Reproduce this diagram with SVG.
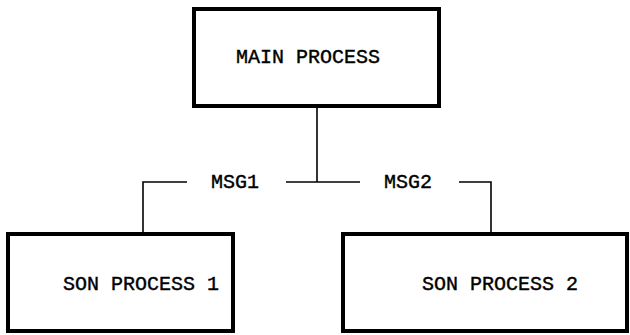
<svg xmlns="http://www.w3.org/2000/svg" width="630" height="335" viewBox="0 0 630 335">
<style>
.box{fill:#fff;stroke:#000;stroke-width:4}
.lbl{font-family:"Liberation Mono","Courier New",monospace;font-size:20px;fill:#000;stroke:#000;stroke-width:0.4}
.wire{fill:none;stroke:#000;stroke-width:1.6}
</style>
<rect width="630" height="335" fill="#fff"/>
<g id="connectors">
<line class="wire" x1="317" y1="107" x2="317" y2="182"/>
<polyline class="wire" points="187,182 143,182 143,233"/>
<line class="wire" x1="286" y1="182" x2="360" y2="182"/>
<polyline class="wire" points="459,182 491,182 491,233"/>
<text class="lbl" x="211" y="188">MSG1</text>
<text class="lbl" x="384" y="188">MSG2</text>
</g>
<g id="main">
<rect class="box" x="194" y="9" width="245" height="97"/>
<text class="lbl" x="236" y="63">MAIN PROCESS</text>
</g>
<g id="son1">
<rect class="box" x="8" y="234" width="225" height="97"/>
<text class="lbl" x="63" y="290">SON PROCESS 1</text>
</g>
<g id="son2">
<rect class="box" x="343" y="234" width="284" height="97"/>
<text class="lbl" x="422" y="290">SON PROCESS 2</text>
</g>
</svg>
